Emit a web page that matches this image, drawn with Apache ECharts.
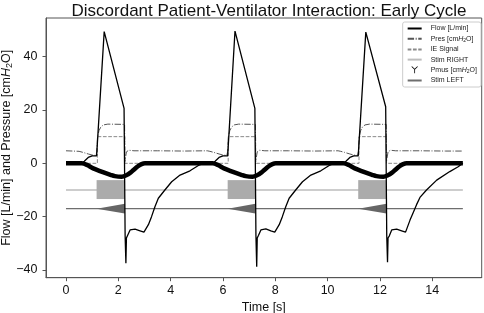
<!DOCTYPE html>
<html>
<head>
<meta charset="utf-8">
<script src="https://cdn.jsdelivr.net/npm/echarts@6/dist/echarts.min.js"></script>
<style>
  html, body { margin: 0; padding: 0; background: #fff; }
  #chart { width: 484px; height: 313px; }
</style>
</head>
<body>
<div id="chart"></div>
<script>
// values, [time s, value]
const flow = [
  [0, 0], [0.6, 0], [0.7, 0.8], [0.85, 2.2], [1.0, 2.8], [1.17, 2.8], [1.46, 49.4], [2.22, 20.6], [2.25, 20],
  [2.26, -27], [2.29, -37.5], [2.31, -28], [2.36, -27.3], [2.45, -25], [2.64, -24.7], [2.83, -25.3], [2.98, -25.8],
  [3.05, -25.6], [3.15, -23], [3.27, -20], [3.4, -16.3], [3.53, -13.1], [3.78, -10], [4.04, -6.9], [4.36, -4.4],
  [4.74, -2.8], [5.06, -0.8], [5.2, -0.2], [5.6, 0],
  [5.7, 0.8], [5.85, 2.2], [6.0, 2.8], [6.18, 2.8], [6.46, 49.6], [7.22, 20.6], [7.25, 20],
  [7.26, -27], [7.29, -38.8], [7.31, -28], [7.36, -27], [7.45, -25], [7.64, -24.6], [7.83, -25.3], [7.98, -25.8],
  [8.05, -25.6], [8.15, -23], [8.27, -20], [8.4, -16.3], [8.53, -13.1], [8.78, -10], [9.04, -6.9], [9.36, -4.4],
  [9.74, -2.8], [10.06, -0.8], [10.2, -0.2], [10.6, 0],
  [10.7, 0.8], [10.85, 2.2], [11.0, 2.8], [11.17, 2.8], [11.46, 49.2], [12.22, 21.2], [12.25, 20.5],
  [12.26, -27], [12.29, -37.1], [12.31, -28], [12.36, -27.2], [12.45, -25], [12.64, -24.7], [12.83, -25.3], [12.98, -25.8],
  [13.05, -25.6], [13.15, -21.3], [13.27, -18.5], [13.4, -15.5], [13.53, -12.8], [13.78, -10], [14.17, -6.3],
  [14.67, -3.1], [14.99, -1.3], [15.12, -0.3], [15.17, 0]
];
const pres = [
  [0, 4.7], [0.5, 4.5], [0.65, 4.1], [0.85, 3.5], [1.0, 3.1], [1.15, 3.0], [1.18, 4.5], [1.21, 10], [1.26, 12.2],
  [1.33, 13.6], [1.43, 14.4], [1.6, 14.7], [2.24, 14.6], [2.25, 0.6], [2.28, 0.6], [2.31, 4.3], [2.4, 4.9],
  [2.6, 4.7], [3.5, 4.7], [4.5, 4.6], [5.4, 4.7],
  [5.5, 4.5], [5.65, 4.1], [5.85, 3.5], [6.0, 3.1], [6.15, 3.0], [6.18, 4.5], [6.21, 10], [6.26, 12.2],
  [6.33, 13.6], [6.43, 14.4], [6.6, 14.7], [7.24, 14.6], [7.25, 0.6], [7.28, 0.6], [7.31, 4.3], [7.4, 4.9],
  [7.6, 4.7], [8.5, 4.7], [9.5, 4.6], [10.4, 4.7],
  [10.5, 4.5], [10.65, 4.1], [10.85, 3.5], [11.0, 3.1], [11.15, 3.0], [11.18, 4.5], [11.21, 10], [11.26, 12.2],
  [11.33, 13.6], [11.43, 14.4], [11.6, 14.7], [12.24, 14.6], [12.25, 0.6], [12.28, 0.6], [12.31, 4.3], [12.4, 4.9],
  [12.6, 4.7], [13.5, 4.7], [14.5, 4.6], [15.15, 4.6]
];
const ieSignal = [
  [0, 0], [1.2, 0], [1.2, 10], [2.25, 10], [2.25, 0], [6.2, 0], [6.2, 10], [7.25, 10], [7.25, 0],
  [11.2, 0], [11.2, 10], [12.25, 10], [12.25, 0], [15.17, 0]
];
const pmus = [
  [0, 0], [0.6, 0], [0.8, -0.6], [1.04, -1.9], [1.3, -2.9], [1.49, -3.6], [1.7, -4.3], [1.87, -4.8], [2.13, -5.0],
  [2.32, -4.4], [2.45, -3.6], [2.57, -2.6], [2.75, -1.1], [2.89, -0.3], [3.02, 0], [5.6, 0],
  [5.8, -0.6], [6.04, -1.9], [6.3, -2.9], [6.49, -3.6], [6.7, -4.3], [6.87, -4.8], [7.13, -5.0],
  [7.32, -4.4], [7.45, -3.6], [7.57, -2.6], [7.75, -1.1], [7.89, -0.3], [8.02, 0], [10.6, 0],
  [10.8, -0.6], [11.04, -1.9], [11.3, -2.9], [11.49, -3.6], [11.7, -4.3], [11.87, -4.8], [12.13, -5.0],
  [12.32, -4.4], [12.45, -3.6], [12.57, -2.6], [12.75, -1.1], [12.89, -0.3], [13.02, 0], [15.17, 0]
];
const stimRight = [[0, -10], [15.17, -10]];
const stimLeft = [[0, -17], [15.17, -17]];
// stimulation windows [start, end] and their extent in axis units
const stimRightOn = [[1.17, 2.25], [6.18, 7.24], [11.17, 12.25]];
const stimRightBand = [-13.4, -6.3];
const stimLeftOn = [[1.17, 2.25], [6.18, 7.24], [11.17, 12.25]];
const stimLeftLevel = -17;
const stimLeftHalf = 1.8;

const xTicks = [0, 2, 4, 6, 8, 10, 12, 14];
const yTicks = [-40, -20, 0, 20, 40];

const labels = {
  Flow: 'Flow [L/min]',
  Pres: 'Pres [cm{i|H}{s|2}O]',
  IE: 'IE Signal',
  StimR: 'Stim RIGHT',
  Pmus: 'Pmus [cm{i|H}{s|2}O]',
  StimL: 'Stim LEFT'
};

const FONT = 'Liberation Sans';
const minus = v => String(v).replace('-', '\u2212');
const noDot = { opacity: 0 };

const chart = echarts.init(document.getElementById('chart'), null, { renderer: 'canvas' });

const option = {
  animation: false,
  textStyle: { fontFamily: FONT },
  title: {
    text: 'Discordant Patient-Ventilator Interaction: Early Cycle',
    left: 264,
    textAlign: 'center',
    top: -2,
    textStyle: { fontFamily: FONT, fontSize: 17, fontWeight: 'normal', color: '#111' }
  },
  grid: {
    left: 46, right: 2.3, top: 18, bottom: 35.3,
    outerBoundsMode: 'none', containLabel: false,
    show: true, borderColor: '#555', borderWidth: 1
  },
  legend: {
    orient: 'vertical',
    right: 3,
    top: 22,
    data: ['Flow', 'Pres', 'IE', 'StimR', { name: 'Pmus', icon: 'path://M4.4,5 L0,1 L0.9,0.2 L5,4 L9.1,0.2 L10,1 L5.6,5 L5.6,11 L4.4,11 Z' }, 'StimL'],
    itemWidth: 14,
    itemHeight: 7,
    itemGap: 3.2,
    padding: [3, 4, 3, 4],
    borderColor: '#ccc',
    borderWidth: 1,
    borderRadius: 2,
    backgroundColor: '#fff',
    formatter: name => labels[name],
    textStyle: {
      fontFamily: FONT, fontSize: 7, color: '#222', padding: [0, 0, 0, 4],
      rich: {
        i: { fontFamily: FONT, fontSize: 7, fontStyle: 'italic', color: '#222' },
        s: { fontFamily: FONT, fontSize: 5, color: '#222', verticalAlign: 'bottom', padding: [3, 0, 0, 0] }
      }
    }
  },
  xAxis: {
    type: 'value',
    min: -0.764, max: 15.89,
    name: 'Time [s]',
    nameLocation: 'middle',
    nameGap: 23,
    nameMoveOverlap: false,
    nameTextStyle: { fontFamily: FONT, fontSize: 12.5, color: '#111' },
    splitLine: { show: false },
    axisLine: { onZero: false, lineStyle: { color: '#555' } },
    axisTick: { customValues: xTicks, length: 3.5, lineStyle: { color: '#555' } },
    axisLabel: { customValues: xTicks, fontFamily: FONT, fontSize: 12.5, color: '#111', margin: 6, formatter: minus }
  },
  yAxis: {
    type: 'value',
    min: -42.9, max: 54.5,
    name: 'Flow [L/min] and Pressure [cm{i|H}{s|2}O]',
    nameLocation: 'middle',
    nameGap: 32,
    nameMoveOverlap: false,
    nameTextStyle: {
      fontFamily: FONT, fontSize: 12.5, color: '#111',
      rich: {
        i: { fontFamily: FONT, fontSize: 12.5, fontStyle: 'italic', color: '#111' },
        s: { fontFamily: FONT, fontSize: 9, color: '#111', verticalAlign: 'bottom', padding: [5, 0, 0, 0] }
      }
    },
    splitLine: { show: false },
    axisLine: { show: true, onZero: false, lineStyle: { color: '#555' } },
    axisTick: { show: true, customValues: yTicks, length: 3.5, lineStyle: { color: '#555' } },
    axisLabel: { customValues: yTicks, fontFamily: FONT, fontSize: 12.5, color: '#111', margin: 8.5, formatter: minus }
  },
  series: [
    {
      name: 'StimR', type: 'line', data: stimRight, symbol: 'none', z: 2,
      lineStyle: { color: '#bdbdbd', width: 1.3 }, itemStyle: noDot
    },
    {
      name: 'StimRBox', type: 'custom', z: 3, data: stimRightOn, encode: { x: [0, 1] },
      renderItem: (params, api) => {
        const t0 = api.value(0), t1 = api.value(1);
        const pts = [
          api.coord([t0, stimRightBand[1]]), api.coord([t1, stimRightBand[1]]),
          api.coord([t1, stimRightBand[0]]), api.coord([t0, stimRightBand[0]])
        ];
        return { type: 'polygon', shape: { points: pts }, style: { fill: '#ababab' } };
      }
    },
    {
      name: 'StimL', type: 'line', data: stimLeft, symbol: 'none', z: 2,
      lineStyle: { color: '#6e6e6e', width: 1.3 }, itemStyle: noDot
    },
    {
      name: 'StimLRamp', type: 'custom', z: 3, data: stimLeftOn, encode: { x: [0, 1] },
      renderItem: (params, api) => {
        const t0 = api.value(0), t1 = api.value(1);
        const pts = [
          api.coord([t0, stimLeftLevel]),
          api.coord([t1, stimLeftLevel + stimLeftHalf]),
          api.coord([t1, stimLeftLevel - stimLeftHalf])
        ];
        return { type: 'polygon', shape: { points: pts }, style: { fill: '#666666' } };
      }
    },
    {
      name: 'IE', type: 'line', data: ieSignal, symbol: 'none', z: 4,
      lineStyle: { color: '#8a8a8a', width: 1, type: [3.7, 1.6] }, itemStyle: noDot
    },
    {
      name: 'Pres', type: 'line', data: pres, symbol: 'none', z: 5,
      lineStyle: { color: '#555', width: 1, type: [6.4, 1.6, 1, 1.6] }, itemStyle: noDot
    },
    {
      name: 'Pmus', type: 'line', data: pmus, symbol: 'none', z: 6, smooth: 0.3,
      lineStyle: { color: '#000', width: 4.5 }, itemStyle: { color: '#000' }
    },
    {
      name: 'Flow', type: 'line', data: flow, symbol: 'none', z: 7,
      lineStyle: { color: '#000', width: 1.3 }, itemStyle: noDot
    }
  ]
};

chart.setOption(option);
</script>
</body>
</html>
